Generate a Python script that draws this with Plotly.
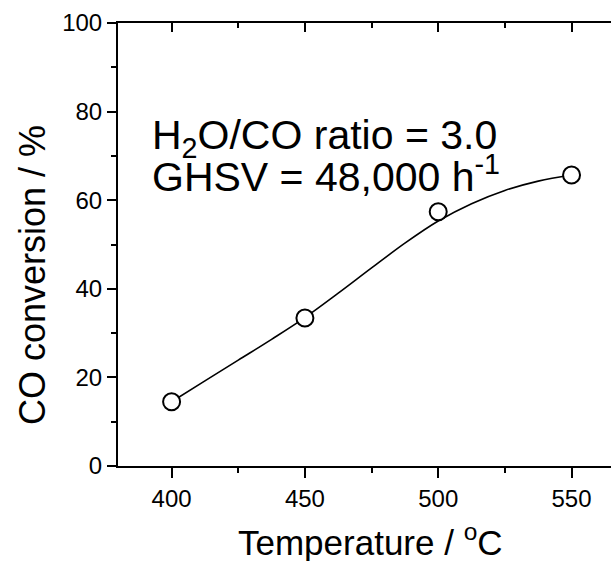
import plotly.graph_objects as go

# measured data (circles)
temp = [400, 450, 500, 550]
conv = [14.5, 33.4, 57.4, 65.7]

# fitted curve
fit_t = [400, 412.5, 425, 437.5, 450, 462.5, 475, 487.5, 500, 512.5, 525, 537.5, 550]
fit_c = [14.5, 19.2, 23.9, 28.6, 33.5, 39.0, 44.7, 50.3, 55.3, 59.2, 62.2, 64.3, 65.7]

x_ticks = [400, 450, 500, 550]
y_ticks = [0, 20, 40, 60, 80, 100]

FONT = "Liberation Sans, Arial, sans-serif"

fig = go.Figure()
fig.add_trace(go.Scatter(x=fit_t, y=fit_c, mode="lines", line=dict(color="black", width=1.6, shape="spline"),
                         showlegend=False, hoverinfo="skip"))
fig.add_trace(go.Scatter(x=temp, y=conv, mode="markers",
                         marker=dict(symbol="circle", size=17, color="white", line=dict(color="black", width=2)),
                         showlegend=False))
fig.add_trace(go.Scatter(x=[None], y=[None], xaxis="x2", showlegend=False, hoverinfo="skip"))

xr = [379.9, 564.8]
fig.update_layout(
    width=611, height=561,
    margin=dict(l=118, r=0, t=23, b=95),
    paper_bgcolor="white", plot_bgcolor="white",
    font=dict(family=FONT, color="black", size=24),
    xaxis=dict(range=xr, tickvals=x_ticks, ticks="outside", ticklen=10, tickwidth=2, tickcolor="black",
               minor=dict(dtick=25, tick0=400, ticks="outside", ticklen=5, tickwidth=2, tickcolor="black"),
               showline=True, linewidth=2, linecolor="black", showgrid=False, zeroline=False,
               tickfont=dict(size=24, family=FONT)),
    xaxis2=dict(range=xr, overlaying="x", side="top", anchor="y", tickvals=x_ticks, ticks="inside", ticklen=9,
                tickwidth=2, tickcolor="black",
                minor=dict(dtick=25, tick0=400, ticks="inside", ticklen=5, tickwidth=2, tickcolor="black"),
                showticklabels=False, showline=True, linewidth=2, linecolor="black", showgrid=False, zeroline=False),
    yaxis=dict(range=[0, 100], tickvals=y_ticks, ticks="outside", ticklen=9, tickwidth=2, tickcolor="black",
               minor=dict(dtick=10, tick0=0, ticks="outside", ticklen=5, tickwidth=2, tickcolor="black"),
               showline=True, linewidth=2, linecolor="black", showgrid=False, zeroline=False,
               tickfont=dict(size=24, family=FONT)),
)

fig.add_annotation(text="H<sub>2</sub>O/CO ratio = 3.0", xref="paper", yref="paper",
                   x=(150 - 118) / 493, y=(466 - 138) / 443, xanchor="left", yanchor="middle",
                   showarrow=False, font=dict(size=41, family=FONT, color="black"))
fig.add_annotation(text="GHSV = 48,000 h<sup>-1</sup>", xref="paper", yref="paper",
                   x=(150 - 118) / 493, y=(466 - 174) / 443, xanchor="left", yanchor="middle",
                   showarrow=False, font=dict(size=41, family=FONT, color="black"))
fig.add_annotation(text="Temperature / <sup>o</sup>C", xref="paper", yref="paper",
                   x=(370.5 - 118) / 493, y=(466 - 540) / 443, xanchor="center", yanchor="middle",
                   showarrow=False, font=dict(size=35, family=FONT, color="black"))
fig.add_annotation(text="CO conversion / %", xref="paper", yref="paper", textangle=-90,
                   x=(32 - 118) / 493, y=(466 - 275) / 443, xanchor="center", yanchor="middle",
                   showarrow=False, font=dict(size=36, family=FONT, color="black"))

fig.write_html("out.html")
